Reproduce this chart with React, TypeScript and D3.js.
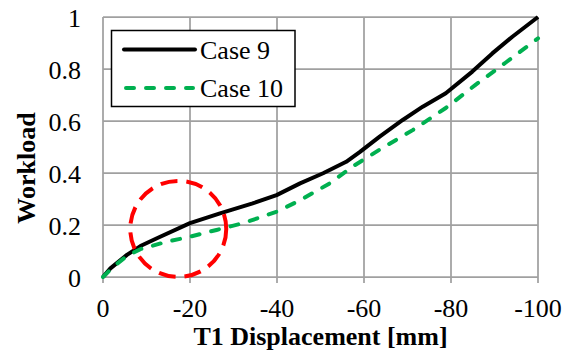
import { useEffect, useRef } from "react"
import * as d3 from "d3"

// Case 9 (solid black)
const case9X = [0, -1.7, -5.5, -8.6, -12.4, -20, -26.9, -34.4, -39.9, -45.3, -50.6, -55.9, -59, -63.6, -68.9, -73.5, -78.8, -84.9, -89.5, -94.1, -100]
const case9Y = [0, 0.033, 0.085, 0.119, 0.149, 0.207, 0.245, 0.283, 0.315, 0.36, 0.399, 0.443, 0.48, 0.54, 0.604, 0.655, 0.707, 0.79, 0.86, 0.924, 1.0]

// Case 10 (green dashed)
const case10X = [0, -2.4, -5.5, -8.6, -14.7, -20, -26.1, -32.2, -39.9, -45.2, -52.1, -57.4, -63.6, -71.2, -78.8, -85.7, -92.6, -100]
const case10Y = [0, 0.04, 0.081, 0.107, 0.136, 0.155, 0.181, 0.207, 0.251, 0.294, 0.36, 0.425, 0.49, 0.565, 0.65, 0.74, 0.825, 0.918]

const xTicks = [0, -20, -40, -60, -80, -100]
const yTicks = [0, 0.2, 0.4, 0.6, 0.8, 1]

const seriesNames = ["Case 9", "Case 10"]

// highlighted region (red dashed circle)
const markX = -17.3
const markY = 0.185

const W = 573
const H = 352
const margin = { top: 17, right: 35, bottom: 75, left: 103 }
const GRID = "#a0a0a0"
const FONT = "\"Liberation Serif\", \"DejaVu Serif\", serif"

export default function App() {
  const svgRef = useRef<SVGSVGElement>(null)

  useEffect(() => {
    if (!svgRef.current) return
    const svg = d3.select(svgRef.current)
    svg.selectAll("*").remove()

    const width = W - margin.left - margin.right
    const height = H - margin.top - margin.bottom

    const x = d3.scaleLinear().domain([0, -100]).range([0, width])
    const y = d3.scaleLinear().domain([0, 1]).range([height, 0])

    const g = svg.append("g").attr("transform", `translate(${margin.left},${margin.top})`)

    // grille
    g.append("g")
      .selectAll("line")
      .data(yTicks)
      .join("line")
      .attr("x1", 0)
      .attr("x2", width)
      .attr("y1", (d) => y(d))
      .attr("y2", (d) => y(d))
      .attr("stroke", GRID)
      .attr("stroke-width", 1.75)

    g.append("g")
      .selectAll("line")
      .data(xTicks)
      .join("line")
      .attr("x1", (d) => x(d))
      .attr("x2", (d) => x(d))
      .attr("y1", 0)
      .attr("y2", height + 6)
      .attr("stroke", GRID)
      .attr("stroke-width", 1.75)

    // labels des ticks
    g.append("g")
      .selectAll("text")
      .data(yTicks)
      .join("text")
      .attr("x", -22)
      .attr("y", (d) => y(d))
      .attr("dy", "0.38em")
      .attr("text-anchor", "end")
      .text((d) => d3.format("~g")(d))

    g.append("g")
      .selectAll("text")
      .data(xTicks)
      .join("text")
      .attr("x", (d) => x(d))
      .attr("y", height + 40)
      .attr("text-anchor", "middle")
      .text((d) => String(d))

    // titres des axes
    g.append("text")
      .attr("x", width / 2)
      .attr("y", height + 68)
      .attr("text-anchor", "middle")
      .attr("font-weight", "bold")
      .text("T1 Displacement [mm]")

    g.append("text")
      .attr("transform", `translate(${35 - margin.left},${168 - margin.top}) rotate(-90)`)
      .attr("text-anchor", "middle")
      .attr("font-weight", "bold")
      .text("Workload")

    const line = d3
      .line<[number, number]>()
      .x((d) => x(d[0]))
      .y((d) => y(d[1]))

    const d9 = case9X.map((v, i) => [v, case9Y[i]] as [number, number])
    const d10 = case10X.map((v, i) => [v, case10Y[i]] as [number, number])

    g.append("path")
      .datum(d9)
      .attr("fill", "none")
      .attr("stroke", "#000")
      .attr("stroke-width", 4)
      .attr("stroke-linejoin", "round")
      .attr("d", line)

    g.append("path")
      .datum(d10)
      .attr("fill", "none")
      .attr("stroke", "#00b050")
      .attr("stroke-width", 4)
      .attr("stroke-linecap", "round")
      .attr("stroke-linejoin", "round")
      .attr("stroke-dasharray", "8,12")
      .attr("d", line)

    // cercle rouge
    g.append("circle")
      .attr("cx", x(markX))
      .attr("cy", y(markY))
      .attr("r", 48)
      .attr("fill", "none")
      .attr("stroke", "#ff0000")
      .attr("stroke-width", 4)
      .attr("stroke-dasharray", "17,9")

    // légende
    const lg = svg.append("g")
    lg.append("rect")
      .attr("x", 111.5)
      .attr("y", 30.5)
      .attr("width", 183.5)
      .attr("height", 76)
      .attr("fill", "#fff")
      .attr("stroke", "#000")
      .attr("stroke-width", 1.5)

    const items = [
      { name: seriesNames[0], color: "#000", dash: null as string | null, cy: 49.5 },
      { name: seriesNames[1], color: "#00b050", dash: "8,12", cy: 88 },
    ]
    items.forEach((it) => {
      lg.append("line")
        .attr("x1", it.dash ? 126 : 124)
        .attr("x2", it.dash ? 193 : 195)
        .attr("y1", it.cy)
        .attr("y2", it.cy)
        .attr("stroke", it.color)
        .attr("stroke-width", 4)
        .attr("stroke-linecap", "round")
        .attr("stroke-dasharray", it.dash)
      lg.append("text")
        .attr("x", 200)
        .attr("y", it.cy + 9)
        .text(it.name)
    })
  }, [])

  return (
    <svg
      ref={svgRef}
      width={W}
      height={H}
      style={{
        position: "absolute",
        left: 0,
        top: 0,
        background: "#fff",
        fontFamily: FONT,
        fontSize: 26,
      }}
    />
  )
}
